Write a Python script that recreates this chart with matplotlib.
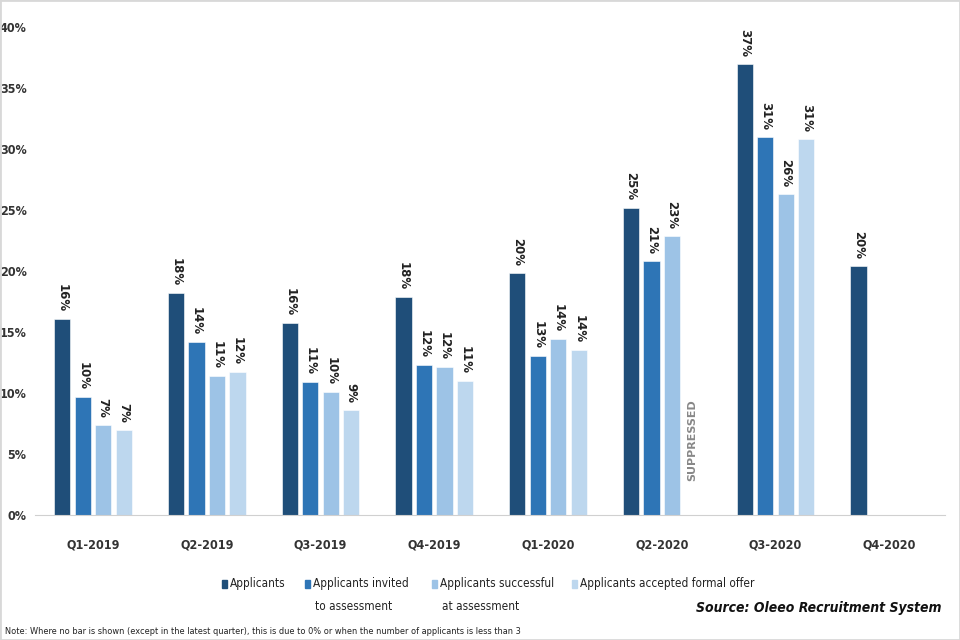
import numpy as np
import matplotlib.pyplot as plt
from matplotlib.patches import Rectangle

plt.rcParams['font.family'] = ['DejaVu Sans']
plt.rcParams['font.stretch'] = 'condensed'

# 数据
quarters = ['Q1-2019', 'Q2-2019', 'Q3-2019', 'Q4-2019',
            'Q1-2020', 'Q2-2020', 'Q3-2020', 'Q4-2020']
applicants = [16.1, 18.2, 15.7, 17.9, 19.8, 25.2, 37.0, 20.4]
invited = [9.7, 14.2, 10.9, 12.3, 13.0, 20.8, 31.0, np.nan]
successful = [7.4, 11.4, 10.1, 12.1, 14.4, 22.9, 26.3, np.nan]
accepted = [7.0, 11.7, 8.6, 11.0, 13.5, np.nan, 30.8, np.nan]

series = [applicants, invited, successful, accepted]
names = ['Applicants', 'Applicants invited\nto assessment',
         'Applicants successful\nat assessment', 'Applicants accepted formal offer']
colors = ['#1F4E79', '#2E75B6', '#9DC3E6', '#BDD7EE']

fig = plt.figure(figsize=(9.6, 6.4), dpi=100)
ax = fig.add_axes([35 / 960, 1 - 515 / 640, 910 / 960, 488 / 640])

x = np.arange(len(quarters))
w = 0.142
step = 0.18
for i, (vals, c) in enumerate(zip(series, colors)):
    xs = x + (i - 1.5) * step
    v = np.array(vals, dtype=float)
    ok = ~np.isnan(v)
    ax.bar(xs[ok], v[ok], width=w, color=c, edgecolor='white', linewidth=0.4)
    for xi, vi in zip(xs[ok], v[ok]):
        ax.annotate(f'{vi:.0f}%', (xi, vi), xytext=(0, 5), textcoords='offset points',
                    rotation=270, ha='center', va='bottom', fontsize=8.5,
                    fontweight='bold', fontstretch='normal', color='#222222')

# Q2-2020 被隐藏的一栏
ax.text(x[5] + 1.5 * step, 6.1, 'SUPPRESSED', rotation=90, ha='center', va='center',
        fontsize=8, fontweight='bold', fontstretch='normal', color='#888888')

ax.set_xlim(-0.51, 7.49)
ax.set_ylim(0, 40)
ax.set_yticks(range(0, 41, 5))
ax.set_yticklabels([f'{t}%' for t in range(0, 41, 5)])
ax.set_xticks(x)
ax.set_xticklabels(quarters)
for lab in ax.get_xticklabels() + ax.get_yticklabels():
    lab.set_fontweight('bold')
    lab.set_fontsize(9)
    lab.set_color('#333333')
ax.tick_params(length=0, axis='y', pad=6)
ax.tick_params(length=0, axis='x', pad=17)
for s in ['top', 'right', 'left']:
    ax.spines[s].set_visible(False)
ax.spines['bottom'].set_color('#D0D0D0')

# 图例（手工排版）
leg_x = [222, 305, 432, 572]
for lx, n, c in zip(leg_x, names, colors):
    fig.patches.append(Rectangle((lx / 960, 1 - 588 / 640), 5 / 960, 8 / 640,
                                 transform=fig.transFigure, color=c))
    lines = n.split('\n')
    fig.text((lx + 8) / 960, 1 - 584 / 640, lines[0], fontsize=8.5, va='center', color='#222222')
    if len(lines) > 1:
        fig.text((lx + 10) / 960, 1 - 607 / 640, lines[1], fontsize=8.5, va='center', color='#222222')

fig.text(942 / 960, 1 - 608 / 640, 'Source: Oleeo Recruitment System', ha='right', va='center',
         fontsize=10, fontweight='bold', fontstyle='italic', color='#111111')
fig.text(5 / 960, 1 - 632 / 640,
         'Note: Where no bar is shown (except in the latest quarter), this is due to 0% '
         'or when the number of applicants is less than 3',
         fontsize=6.6, va='center', color='#222222')

fig.patches.append(Rectangle((0, 0), 1, 1, transform=fig.transFigure, fill=False,
                             edgecolor='#D8D8D8', linewidth=2))

fig.savefig('out.png', dpi=100)
